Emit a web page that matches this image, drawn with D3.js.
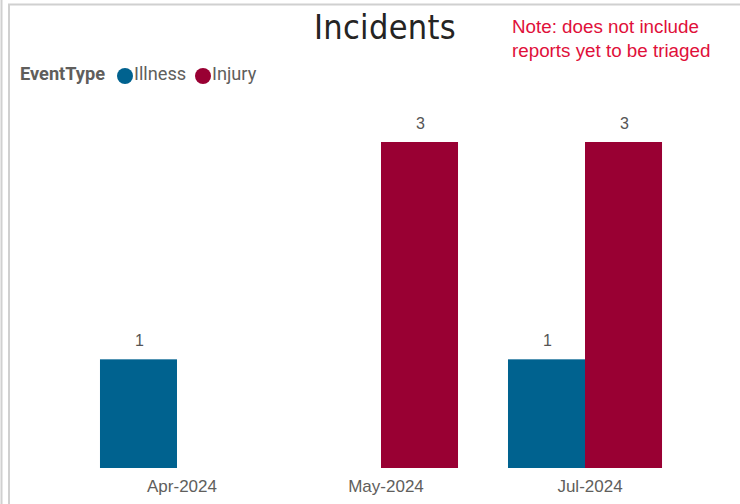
<!DOCTYPE html>
<html><head><meta charset="utf-8">
<script src="https://cdn.jsdelivr.net/npm/d3@7/dist/d3.min.js"></script>
<style>body{margin:0;background:#fff}svg{display:block}</style>
</head><body>
<script>
const categories = ["Apr-2024", "May-2024", "Jul-2024"];
const seriesNames = ["Illness", "Injury"];
const illness = [1, null, 1];
const injury = [null, 3, 3];
const colors = ["#00628F", "#990033"];

const W = 740, H = 504;
const svg = d3.select("body").append("svg").attr("width", W).attr("height", H);

// card borders
svg.append("line").attr("x1",1.5).attr("x2",1.5).attr("y1",0).attr("y2",H).attr("stroke","#d0d0d0").attr("stroke-width",2);
svg.append("path").attr("d",`M9,${H} V4.5 H${W}`).attr("fill","none").attr("stroke","#d0d0d0").attr("stroke-width",2);

const x = d3.scaleBand().domain(categories).range([50, 712]).paddingInner(0.245).paddingOuter(0.245);
const xs = d3.scaleBand().domain(seriesNames).range([0, x.bandwidth()]);
const y = d3.scaleLinear().domain([0, 3]).range([468, 142]);

const data = [illness, injury];
data.forEach((vals, si) => {
  const g = svg.append("g");
  categories.forEach((c, i) => {
    const v = vals[i];
    if (v == null) return;
    g.append("rect").attr("x", x(c) + xs(seriesNames[si])).attr("y", y(v))
      .attr("width", xs.bandwidth()).attr("height", y(0) - y(v)).attr("fill", colors[si]);
    g.append("text").attr("x", x(c) + xs(seriesNames[si]) + xs.bandwidth()/2 + 1).attr("y", y(v) - 13)
      .attr("text-anchor","middle").attr("font-family","Liberation Sans, Arial, sans-serif")
      .attr("font-size",16).attr("fill","#555").text(v);
  });
});

const xAxis = d3.axisBottom(x).tickSize(0).tickPadding(12);
const ax = svg.append("g").attr("transform","translate(5,468)").call(xAxis);
ax.select(".domain").remove();
ax.selectAll("text").attr("font-family","Liberation Sans, Arial, sans-serif").attr("font-size",17).attr("fill","#605E5C");

// title
svg.append("text").attr("x",385).attr("y",39).attr("text-anchor","middle").attr("letter-spacing",0.3)
  .attr("font-family","DejaVu Sans Condensed, sans-serif").attr("font-size",34).attr("fill","#252423").text("Incidents");

// note
const note = svg.append("text").attr("font-family","Liberation Sans, Arial, sans-serif").attr("font-size",18.8).attr("fill","#E0103A");
note.append("tspan").attr("x",512).attr("y",33).text("Note: does not include");
note.append("tspan").attr("x",512).attr("y",57).text("reports yet to be triaged");

// legend
svg.append("text").attr("x",20).attr("y",80).attr("font-family","Roboto, Liberation Sans, sans-serif")
  .attr("font-weight","bold").attr("font-size",18.2).attr("fill","#605E5C").text("EventType");
const lx = [125, 203];
seriesNames.forEach((s, i) => {
  svg.append("circle").attr("cx", lx[i]).attr("cy", 76).attr("r", 8).attr("fill", colors[i]);
  svg.append("text").attr("x", lx[i] + 9).attr("y", 80).attr("font-family","Roboto, Liberation Sans, sans-serif")
    .attr("font-size",18.2).attr("fill","#605E5C").text(s);
});
</script>
</body></html>
